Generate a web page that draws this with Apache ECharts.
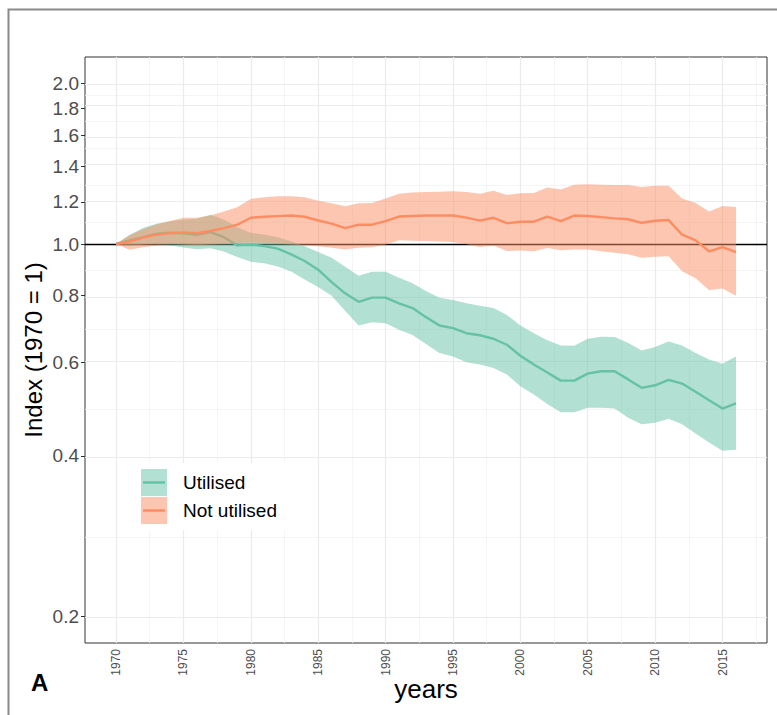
<!DOCTYPE html>
<html><head><meta charset="utf-8">
<script src="https://cdn.jsdelivr.net/npm/echarts@6/dist/echarts.min.js"></script>
<style>html,body{margin:0;padding:0;background:#fff}#chart{width:777px;height:715px}</style>
</head><body><div id="chart"></div>
<script>
const years = [1970,1971,1972,1973,1974,1975,1976,1977,1978,1979,1980,1981,1982,1983,1984,1985,1986,1987,1988,1989,1990,1991,1992,1993,1994,1995,1996,1997,1998,1999,2000,2001,2002,2003,2004,2005,2006,2007,2008,2009,2010,2011,2012,2013,2014,2015,2016];
const utilMean = [1.000,1.016,1.030,1.045,1.050,1.047,1.041,1.053,1.030,0.994,0.997,0.991,0.980,0.956,0.929,0.895,0.848,0.808,0.779,0.793,0.793,0.774,0.758,0.729,0.703,0.695,0.680,0.674,0.664,0.647,0.617,0.594,0.574,0.554,0.554,0.571,0.577,0.577,0.557,0.537,0.543,0.556,0.547,0.528,0.509,0.491,0.502];
const utilLow = [1.000,0.990,0.998,1.000,0.995,0.985,0.978,0.982,0.968,0.945,0.926,0.920,0.907,0.888,0.858,0.830,0.800,0.749,0.703,0.713,0.710,0.690,0.675,0.649,0.624,0.615,0.600,0.594,0.585,0.569,0.541,0.522,0.501,0.483,0.483,0.493,0.493,0.491,0.472,0.459,0.462,0.470,0.459,0.441,0.424,0.409,0.411];
const utilHigh = [1.000,1.040,1.072,1.092,1.103,1.110,1.115,1.135,1.112,1.075,1.050,1.042,1.030,1.012,0.990,0.966,0.942,0.906,0.872,0.887,0.887,0.864,0.844,0.816,0.793,0.785,0.774,0.766,0.758,0.736,0.703,0.680,0.660,0.645,0.644,0.664,0.670,0.669,0.652,0.631,0.641,0.656,0.645,0.624,0.607,0.596,0.615];
const notMean = [1.000,1.010,1.028,1.042,1.048,1.051,1.048,1.058,1.071,1.087,1.120,1.125,1.128,1.131,1.125,1.107,1.092,1.071,1.087,1.087,1.104,1.126,1.129,1.131,1.131,1.131,1.121,1.106,1.120,1.094,1.101,1.101,1.126,1.104,1.131,1.129,1.123,1.117,1.113,1.096,1.106,1.109,1.041,1.016,0.969,0.987,0.966];
const notLow = [1.000,0.975,0.986,0.995,1.000,0.998,0.995,0.998,1.000,1.004,1.006,1.004,1.001,0.998,0.995,0.990,0.984,0.976,0.984,0.986,0.997,1.016,1.014,1.013,1.011,1.009,0.999,0.987,0.994,0.970,0.972,0.969,0.983,0.973,0.977,0.976,0.969,0.963,0.957,0.942,0.946,0.948,0.889,0.862,0.820,0.825,0.800];
const notHigh = [1.000,1.038,1.066,1.088,1.105,1.120,1.120,1.131,1.151,1.172,1.215,1.224,1.229,1.229,1.224,1.206,1.192,1.177,1.192,1.194,1.218,1.243,1.249,1.252,1.254,1.256,1.252,1.242,1.259,1.236,1.245,1.247,1.276,1.265,1.292,1.294,1.292,1.290,1.290,1.279,1.287,1.287,1.218,1.194,1.151,1.179,1.174];
const yTicks = [0.2,0.4,0.6,0.8,1.0,1.2,1.4,1.6,1.8,2.0];
const xTicks = [1970,1975,1980,1985,1990,1995,2000,2005,2010,2015];
const seriesNames = ['Utilised','Not utilised'];

const L = v => Math.log10(v);
const FONT = '"Liberation Sans", Arial, Helvetica, sans-serif';
const GREEN = '#66C2A5', ORANGE = '#FC8D62';
const yMinor = yTicks.slice(1).map((t,i)=>Math.sqrt(t*yTicks[i]));
const xMinor = xTicks.map(t=>t+2.5);
const LINE_ICON = 'path://M0,0h0.01v0.01h-0.01z M2,12.2h22v2.6h-22z M26,27h-0.01v-0.01h0.01z';

const gridLines = [].concat(
  yMinor.map(t=>({yAxis:L(t), lineStyle:{color:'#F2F2F2', width:0.8, type:'solid'}})),
  xMinor.map(t=>({xAxis:t, lineStyle:{color:'#F2F2F2', width:0.8, type:'solid'}})),
  yTicks.map(t=>({yAxis:L(t), lineStyle:{color:'#EBEBEB', width:1.2, type:'solid'}})),
  xTicks.map(t=>({xAxis:t, lineStyle:{color:'#EBEBEB', width:1.2, type:'solid'}}))
);

function band(name, lo, hi, color, z){
  return {
    name, type:'custom', z, silent:true, itemStyle:{color},
    data: years.map((y,i)=>[y, L(lo[i]), L(hi[i])]),
    encode:{x:0, y:[1,2]},
    renderItem:(params, api)=>{
      if (params.dataIndex !== 0) return null;
      const top = [], bot = [];
      for (let i = 0; i < years.length; i++) {
        top.push(api.coord([years[i], L(hi[i])]));
        bot.push(api.coord([years[i], L(lo[i])]));
      }
      const pts = top.concat(bot.reverse());
      return {type:'polygon', shape:{points:pts}, style:{fill:color, opacity:0.5, stroke:'none'}};
    }
  };
}
function meanLine(name, vals, color, z){
  return {name, type:'line', z, silent:true, symbol:'none', itemStyle:{color},
    lineStyle:{color, width:2.4}, data: years.map((y,i)=>[y, L(vals[i])])};
}

const chart = echarts.init(document.getElementById('chart'), null, {renderer:'svg'});
chart.setOption({
  animation:false,
  backgroundColor:'#fff',
  textStyle:{fontFamily:FONT},
  grid:{left:85, right:10, top:57, bottom:72, show:true, borderColor:'#333333', borderWidth:1, backgroundColor:'transparent', containLabel:false, outerBoundsMode:'none'},
  xAxis:{type:'value', min:1967.7, max:2018.3,
    name:'years', nameLocation:'middle', nameGap:33, nameMoveOverlap:false,
    nameTextStyle:{fontFamily:FONT, fontSize:26, color:'#000'},
    axisLine:{show:false},
    axisTick:{show:true, length:4, lineStyle:{color:'#333333', width:1}, customValues:xTicks},
    axisLabel:{rotate:90, fontSize:12, color:'#4D4D4D', margin:6, fontFamily:FONT, customValues:xTicks, formatter:v=>String(Math.round(v))},
    splitLine:{show:false}},
  yAxis:{type:'value', min:L(0.2)-0.05, max:L(2.0)+0.05,
    name:'Index (1970 = 1)', nameLocation:'middle', nameGap:40, nameMoveOverlap:false,
    nameTextStyle:{fontFamily:FONT, fontSize:24, color:'#000'},
    axisLine:{show:false},
    axisTick:{show:true, length:4, lineStyle:{color:'#333333', width:1}, customValues:yTicks.map(L)},
    axisLabel:{fontSize:19, color:'#4D4D4D', margin:6, fontFamily:FONT, customValues:yTicks.map(L), formatter:v=>Math.pow(10,v).toFixed(1)},
    splitLine:{show:false}},
  legend:[
    {left:135, top:463, orient:'vertical', padding:[6,10,6,6], backgroundColor:'#fff', itemWidth:26, itemHeight:27, itemGap:1, z:20, selectedMode:false,
     textStyle:{fontFamily:FONT, fontSize:19, color:'#000', padding:[0,0,0,11]},
     data:[{name:seriesNames[0], icon:'rect', itemStyle:{color:'rgba(102,194,165,0.5)', borderWidth:0}},
           {name:seriesNames[1], icon:'rect', itemStyle:{color:'rgba(252,141,98,0.5)', borderWidth:0}}]},
    {left:135, top:463, orient:'vertical', padding:[6,10,6,6], itemWidth:26, itemHeight:27, itemGap:1, z:21, selectedMode:false,
     formatter:()=>'', textStyle:{fontFamily:FONT, fontSize:19},
     data:[{name:seriesNames[0], icon:LINE_ICON, itemStyle:{color:GREEN, borderWidth:0}},
           {name:seriesNames[1], icon:LINE_ICON, itemStyle:{color:ORANGE, borderWidth:0}}]}
  ],
  graphic:[
    {type:'rect', left:6, top:7, z:100, silent:true, shape:{x:0,y:0,width:800,height:800}, style:{fill:'none', stroke:'#8A8A8A', lineWidth:2}},
    {type:'text', left:31, top:670, z:100, silent:true, style:{text:'A', fontFamily:FONT, fontSize:24, fontWeight:'bold', fill:'#000'}}
  ],
  series:[
    {type:'line', data:[[1970,0]], symbol:'none', silent:true, lineStyle:{opacity:0}, z:1,
     markLine:{silent:true, symbol:['none','none'], z:1, label:{show:false}, animation:false, data:gridLines}},
    {type:'line', data:[[1970,0]], symbol:'none', silent:true, lineStyle:{opacity:0}, z:3,
     markLine:{silent:true, symbol:['none','none'], z:3, label:{show:false}, animation:false,
       data:[{yAxis:0, lineStyle:{color:'#000', width:1.4, type:'solid'}}]}},
    band(seriesNames[0], utilLow, utilHigh, GREEN, 10),
    meanLine(seriesNames[0], utilMean, GREEN, 11),
    band(seriesNames[1], notLow, notHigh, ORANGE, 12),
    meanLine(seriesNames[1], notMean, ORANGE, 13)
  ]
});
</script></body></html>
